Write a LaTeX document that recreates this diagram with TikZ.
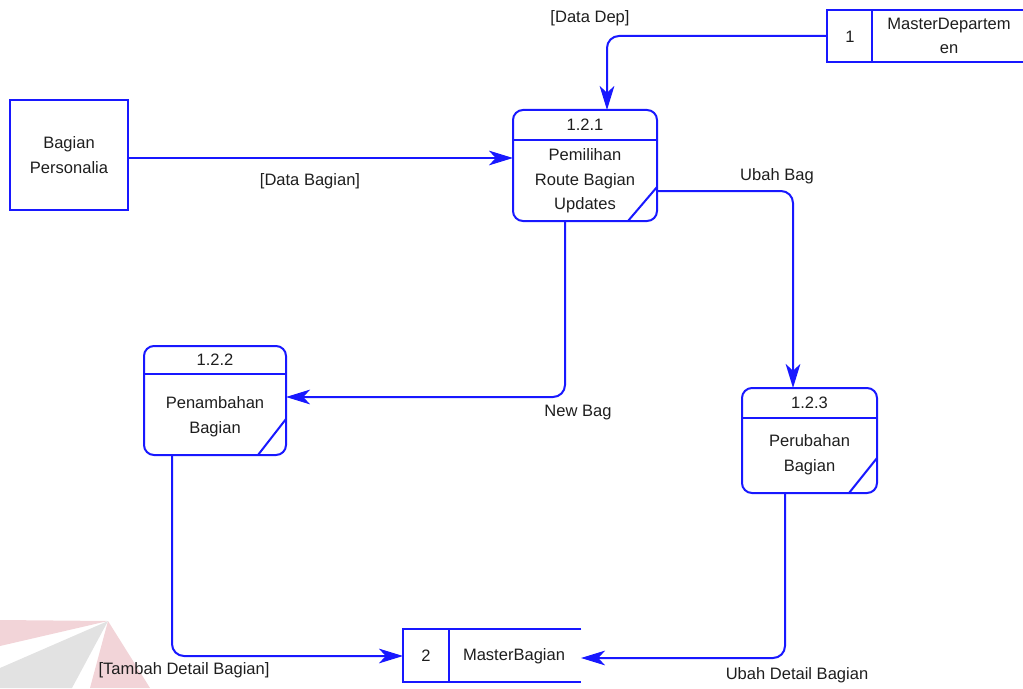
\documentclass[tikz,border=0pt]{standalone}
\usepackage{fontspec}
\setmainfont{Liberation Sans}
\usetikzlibrary{arrows.meta}
\definecolor{dfdblue}{RGB}{24,24,255}
\definecolor{txtgray}{RGB}{30,30,30}
\definecolor{wmpink}{RGB}{242,212,216}
\definecolor{wmgray}{RGB}{226,226,226}
\tikzset{
  dfdtext/.style={text=txtgray, font=\fontsize{12.4}{18.4}\selectfont, inner sep=0pt},
  entity/.style={draw=dfdblue, line width=1.5pt, inner sep=0pt, align=center, dfdtext},
  procbox/.style={draw=dfdblue, line width=1.5pt, rounded corners=7.5pt, inner sep=0pt},
  storebox/.style={inner sep=0pt},
  edge/.style={draw=dfdblue, line width=1.5pt},
  flow/.style={draw=dfdblue, line width=1.5pt, rounded corners=9pt,
    -{Stealth[length=18pt, width=11pt, inset=5pt]}},
  lbl/.style={dfdtext, align=center}
}
\begin{document}
\begin{tikzpicture}[x=0.75pt, y=-0.75pt]
\useasboundingbox (0,0) rectangle (1023,688);

% faint logo in the lower left corner
\fill[wmpink] (0,620) -- (108,621) -- (0,646) -- cycle;
\fill[wmgray] (0,668) -- (108,621) -- (72,688) -- (0,688) -- cycle;
\fill[wmpink] (108,621) -- (90,688) -- (150,688) -- cycle;

% external entity
\node[entity, minimum width=88.5pt, minimum height=82.5pt] (bp) at (69,155) {Bagian\\Personalia};

% process 1.2.1
\node[procbox, minimum width=108pt, minimum height=83.25pt] (p121) at (585,165.5) {};
\draw[edge] (513,140) -- (657,140);
\draw[edge] (628,221) -- (657,187);
\node[dfdtext] (p121id) at (585,125) {1.2.1};
\node[dfdtext, align=center] (p121txt) at (585,181) {Pemilihan\\Route Bagian\\Updates};

% process 1.2.2
\node[procbox, minimum width=106.5pt, minimum height=81.75pt] (p122) at (215,400.5) {};
\draw[edge] (144,374) -- (286,374);
\draw[edge] (258,455) -- (286,419);
\node[dfdtext] (p122id) at (215,360) {1.2.2};
\node[dfdtext, align=center] (p122txt) at (215,416.5) {Penambahan\\Bagian};

% process 1.2.3
\node[procbox, minimum width=101.25pt, minimum height=78.75pt] (p123) at (809.5,440.5) {};
\draw[edge] (742,418) -- (877,418);
\draw[edge] (849,493) -- (877,458);
\node[dfdtext] (p123id) at (809.5,403) {1.2.3};
\node[dfdtext, align=center] (p123txt) at (809.5,454.5) {Perubahan\\Bagian};

% data store 1
\node[storebox, minimum width=147pt, minimum height=39pt] (s1) at (925,36) {};
\draw[edge] (s1.north east) -- (s1.north west) -- (s1.south west) -- (s1.south east);
\draw[edge] (872,10) -- (872,62);
\node[dfdtext] (s1id) at (850,37) {1};
\node[dfdtext, align=center] (s1txt) at (949,36) {MasterDepartem\\en};

% data store 2
\node[storebox, minimum width=133.5pt, minimum height=39.75pt] (s2) at (492,655.5) {};
\draw[edge] (s2.north east) -- (s2.north west) -- (s2.south west) -- (s2.south east);
\draw[edge] (449,629) -- (449,682);
\node[dfdtext] (s2id) at (426,656) {2};
\node[dfdtext] (s2txt) at (514,656) {MasterBagian};

% connector end points on the shape borders
\coordinate (a1) at (513,158);
\coordinate (d1) at (607,110);
\coordinate (u1) at (657,191);
\coordinate (u2) at (793,388);
\coordinate (n1) at (565,221);
\coordinate (n2) at (286,397);
\coordinate (t1) at (172,455);
\coordinate (t2) at (403,656);
\coordinate (e1) at (785,493);
\coordinate (e2) at (581,658);

% data flows
\draw[flow] (bp.east |- a1) -- (a1);
\draw[flow] (s1.west) -| (d1);
\draw[flow] (u1) -| (u2);
\draw[flow] (n1) |- (n2);
\draw[flow] (t1) |- (t2);
\draw[flow] (e1) |- (e2);

% flow labels
\node[lbl] (l1) at (310,181) {[Data Bagian]};
\node[lbl] (l2) at (590,18) {[Data Dep]};
\node[lbl] (l3) at (777,176) {Ubah Bag};
\node[lbl] (l4) at (578,413) {New Bag};
\node[lbl] (l5) at (184,670) {[Tambah Detail Bagian]};
\node[lbl] (l6) at (797,675) {Ubah Detail Bagian};
\end{tikzpicture}
\end{document}
